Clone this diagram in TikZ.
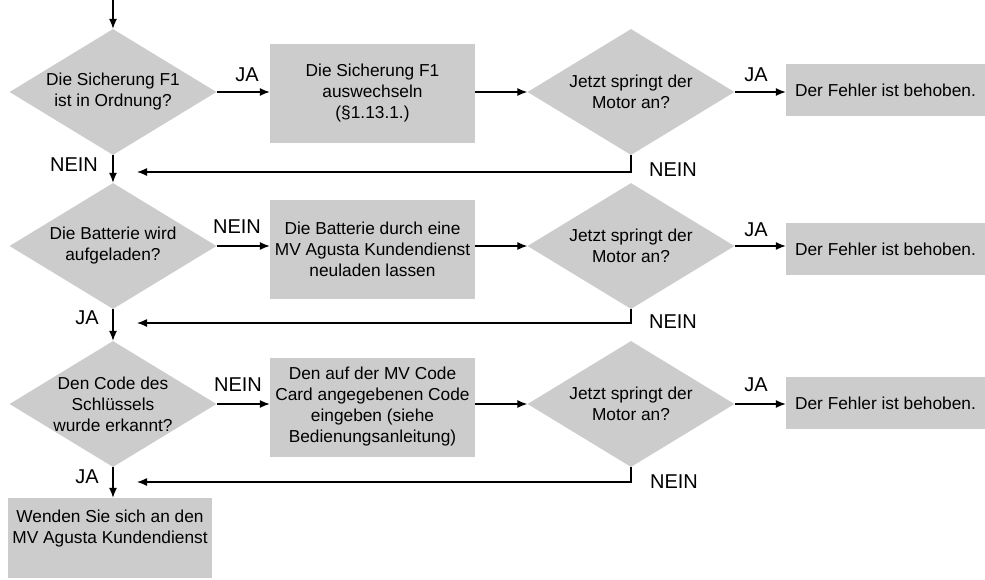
\documentclass[tikz,border=0pt]{standalone}
\usepackage{fontspec}
\setmainfont{Liberation Sans}
\usepackage{xcolor}
\usetikzlibrary{arrows.meta}
\usetikzlibrary{shapes.geometric}
\definecolor{boxgray}{RGB}{204, 204, 204}

\tikzset{
 dec/.style={diamond, fill=boxgray, minimum width=207pt, minimum height=126pt, aspect=1.64, inner sep=-4pt, align=center, font=\fontsize{17.3}{21}\selectfont},
 act/.style={rectangle, fill=boxgray, minimum width=205pt, minimum height=99pt, inner sep=0pt, align=center, font=\fontsize{17.3}{21}\selectfont},
 done/.style={rectangle, fill=boxgray, minimum width=199pt, minimum height=52pt, inner sep=0pt, align=center, font=\fontsize{17.3}{21}\selectfont},
 lbl/.style={inner sep=0pt, font=\fontsize{20}{24}\selectfont},
 flow/.style={-{Latex[length=10pt,width=8pt]}, line width=1.3pt},
}

\begin{document}
\begin{tikzpicture}[x=1pt, y=-1pt]

 \useasboundingbox (0,0) rectangle (985,579);

 \coordinate (start) at (113,0);
 \coordinate (R1) at (137,172); %ends of the NEIN return lines
 \coordinate (R2) at (137,323);
 \coordinate (R3) at (137,482);

 % first row
 \node[dec] (D1) at (113,92) {Die Sicherung F1\\ist in Ordnung?};
 \node[act] (B1) at (372.5,93) {Die Sicherung F1\\auswechseln\\(§1.13.1.)};
 \node[dec] (M1) at (631,92) {Jetzt springt der\\Motor an?};
 \node[done] (E1) at (885.5,90) {Der Fehler ist behoben.};

 % second row
 \node[dec] (D2) at (113,246) {Die Batterie wird\\aufgeladen?};
 \node[act] (B2) at (372.5,249) {Die Batterie durch eine\\MV Agusta Kundendienst\\neuladen lassen};
 \node[dec] (M2) at (631,246) {Jetzt springt der\\Motor an?};
 \node[done] (E2) at (885.5,249) {Der Fehler ist behoben.};

 % third row
 \node[dec] (D3) at (113,404) {Den Code des\\Schlüssels\\wurde erkannt?};
 \node[act] (B3) at (372.5,407) {Den auf der MV Code\\Card angegebenen Code\\eingeben (siehe\\Bedienungsanleitung)};
 \node[dec] (M3) at (631,404) {Jetzt springt der\\Motor an?};
 \node[done] (E3) at (885.5,403) {Der Fehler ist behoben.};

 \node[rectangle, fill=boxgray, minimum width=204pt, minimum height=80pt] (F) at (110,538) {};
 \node[align=center, font=\fontsize{17.3}{21}\selectfont] (Ftext) at (110,529) {Wenden Sie sich an den\\MV Agusta Kundendienst};

 \draw[flow] (start) -- (D1.north);
 \draw[flow] (D1.east) -- (D1.east -| B1.west);
 \draw[flow] (B1.east |- M1.west) -- (M1.west);
 \draw[flow] (M1.east) -- (M1.east -| E1.west);
 \draw[flow] (M1.south) |- (R1);
 \draw[flow] (D1.south) -- (D2.north);

 \draw[flow] (D2.east) -- (D2.east -| B2.west);
 \draw[flow] (B2.east |- M2.west) -- (M2.west);
 \draw[flow] (M2.east) -- (M2.east -| E2.west);
 \draw[flow] (M2.south) |- (R2);
 \draw[flow] (D2.south) -- (D3.north);

 \draw[flow] (D3.east) -- (D3.east -| B3.west);
 \draw[flow] (B3.east |- M3.west) -- (M3.west);
 \draw[flow] (M3.east) -- (M3.east -| E3.west);
 \draw[flow] (M3.south) |- (R3);
 \draw[flow] (D3.south) -- (D3.south |- F.north);

 \node[lbl] (ja1) at (247,75) {JA};
 \node[lbl] (ja2) at (756,75) {JA};
 \node[lbl] (nein1) at (74,165) {NEIN};
 \node[lbl] (nein2) at (673,170) {NEIN};

 \node[lbl] (nein3) at (237,227) {NEIN};
 \node[lbl] (ja3) at (756,230) {JA};
 \node[lbl] (ja4) at (87,318) {JA};
 \node[lbl] (nein4) at (673,322) {NEIN};

 \node[lbl] (nein5) at (238,385) {NEIN};
 \node[lbl] (ja5) at (756,385) {JA};
 \node[lbl] (ja6) at (87,477) {JA};
 \node[lbl] (nein6) at (674,482) {NEIN};

\end{tikzpicture}
\end{document}
